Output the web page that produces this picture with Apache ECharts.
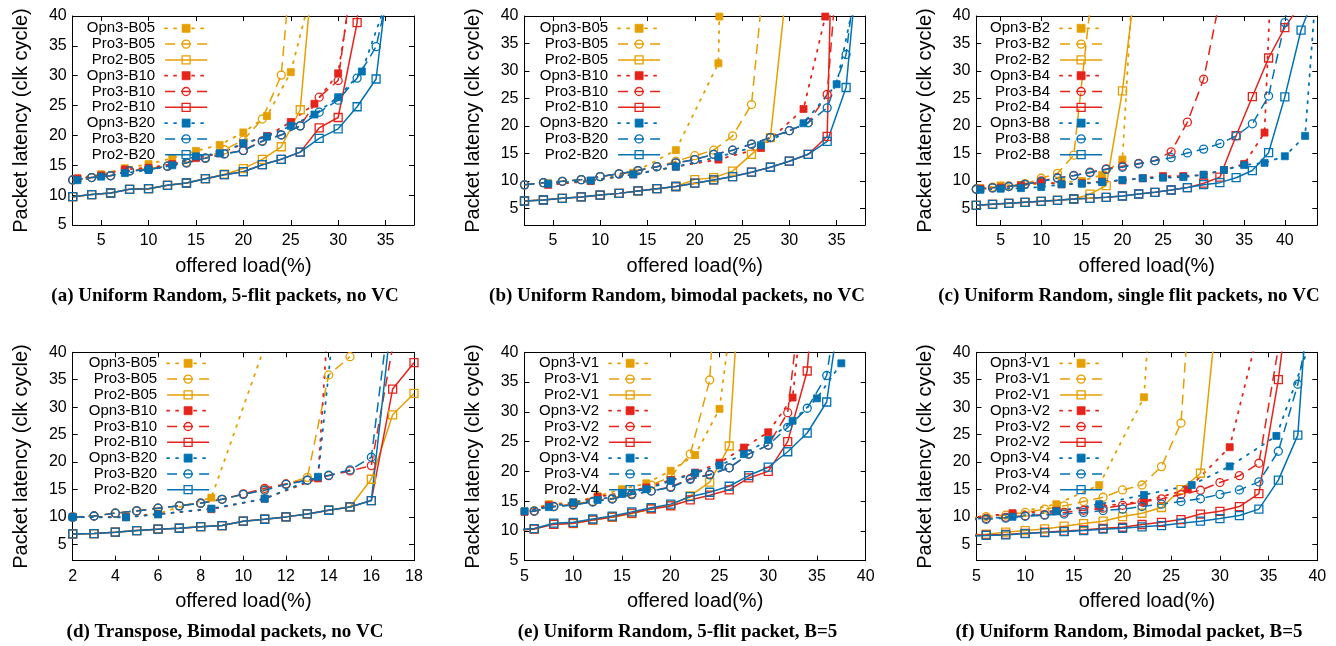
<!DOCTYPE html>
<html><head><meta charset="utf-8">
<script src="https://cdn.jsdelivr.net/npm/echarts@6/dist/echarts.min.js"></script>
<style>html,body{margin:0;padding:0;background:#fff}#c{width:1336px;height:646px}</style>
</head><body><div id="c"></div><script>
// ---------- tick labels ----------
const Y_TICKS = [5, 10, 15, 20, 25, 30, 35, 40];
const X_TICKS_AB = [5, 10, 15, 20, 25, 30, 35];
const X_TICKS_C = [5, 10, 15, 20, 25, 30, 35, 40];
const X_TICKS_D = [2, 4, 6, 8, 10, 12, 14, 16, 18];
const X_TICKS_EF = [5, 10, 15, 20, 25, 30, 35, 40];

// ---------- (a) Uniform Random, 5-flit packets, no VC ----------
const A_OPN3_B05 = [[2.5,12.8],[5,13.5],[7.5,14.5],[10,15.2],[12.5,16.2],[15,17.4],[17.5,18.4],[20,20.5],[22.5,23.25],[25,30.6],[27.5,46]];
const A_PRO3_B05 = [[2,12.55],[4,12.95],[6,13.3],[8,14.1],[10,14.5],[12,14.85],[14,15.5],[16,16.2],[18,17.6],[20,19.2],[22,22.75],[24,30.1],[26,66]];
const A_PRO2_B05 = [[2,9.74],[4,10.1],[6,10.36],[8,10.97],[10,11.08],[12,11.64],[14,12.03],[16,12.76],[18,13.5],[20,14.45],[22,16.0],[24,18.1],[26,24.3],[28,60]];
const A_OPN3_B10 = [[2.5,12.8],[5,13.3],[7.5,14.3],[10,14.6],[12.5,15.2],[15,16.2],[17.5,17.0],[20,18.6],[22.5,19.9],[25,22.25],[27.5,25.3],[30,30.4],[32.5,56]];
const A_PRO3_B10 = [[2,12.55],[4,12.95],[6,13.25],[8,14.05],[10,14.3],[12,14.85],[14,15.4],[16,16.2],[18,16.9],[20,17.5],[22,19.1],[24,20.1],[26,21.6],[28,26.4],[30,29.2],[32,53]];
const A_PRO2_B10 = [[2,9.74],[4,10.1],[6,10.36],[8,10.97],[10,11.08],[12,11.64],[14,12.03],[16,12.76],[18,13.43],[20,13.93],[22,15.1],[24,16.0],[26,17.2],[28,21.25],[30,23.0],[32,38.9],[34,110]];
const A_OPN3_B20 = [[2.5,12.5],[5,13.1],[7.5,13.7],[10,14.2],[12.5,15.0],[15,16.5],[17.5,17.0],[20,18.7],[22.5,19.8],[25,21.6],[27.5,23.5],[30,26.4],[32.5,30.7],[35,42]];
const A_PRO3_B20 = [[2,12.55],[4,12.95],[6,13.25],[8,14.05],[10,14.3],[12,14.85],[14,15.4],[16,16.2],[18,16.9],[20,17.45],[22,19.0],[24,20.07],[26,21.6],[28,23.9],[30,25.9],[32,29.6],[34,34.86],[36,49]];
const A_PRO2_B20 = [[2,9.74],[4,10.1],[6,10.36],[8,10.97],[10,11.08],[12,11.64],[14,12.03],[16,12.76],[18,13.43],[20,13.93],[22,15.1],[24,16.0],[26,17.2],[28,19.5],[30,21.1],[32,24.8],[34,29.45],[36,56]];

// ---------- (b) Uniform Random, bimodal packets, no VC ----------
const B_OPN3_B05 = [[4.5,9.6],[9,10.0],[13.5,11.5],[18,15.6],[22.5,31.4],[22.6,39.9]];
const B_PRO3_B05 = [[2,9.3],[4,9.7],[6,9.95],[8,10.25],[10,10.8],[12,11.3],[14,11.9],[16,12.6],[18,13.6],[20,14.6],[22,15.6],[24,18.2],[26,23.9],[28,59]];
const B_PRO2_B05 = [[2,6.36],[4,6.55],[6,6.85],[8,7.1],[10,7.45],[12,7.75],[14,8.2],[16,8.6],[18,9.0],[20,10.25],[22,10.6],[24,11.8],[26,14.85],[28,17.9],[30,50]];
const B_OPN3_B10 = [[4.5,9.3],[9,10.0],[13.5,11.2],[18,12.6],[22.5,13.9],[27,16.0],[31.5,23.1],[33.8,39.9]];
const B_PRO3_B10 = [[2,9.3],[4,9.7],[6,9.95],[8,10.25],[10,10.8],[12,11.3],[14,11.9],[16,12.6],[18,13.3],[20,13.9],[22,14.85],[24,15.6],[26,16.7],[28,17.9],[30,19.15],[32,20.6],[34,25.75],[36,69]];
const B_PRO2_B10 = [[2,6.36],[4,6.55],[6,6.85],[8,7.1],[10,7.45],[12,7.75],[14,8.2],[16,8.6],[18,9.0],[20,9.6],[22,10.2],[24,10.8],[26,11.6],[28,12.5],[30,13.6],[32,14.85],[34,18.1],[36,160]];
const B_OPN3_B20 = [[4.5,9.5],[9,10.1],[13.5,11.2],[18,12.6],[22.5,14.4],[27,16.5],[31.5,20.5],[35,27.6],[37,44]];
const B_PRO3_B20 = [[2,9.3],[4,9.7],[6,9.95],[8,10.25],[10,10.8],[12,11.3],[14,11.9],[16,12.6],[18,13.3],[20,13.9],[22,14.85],[24,15.6],[26,16.7],[28,17.9],[30,19.15],[32,20.6],[34,23.3],[36,33.0],[38,61]];
const B_PRO2_B20 = [[2,6.36],[4,6.55],[6,6.85],[8,7.1],[10,7.45],[12,7.75],[14,8.2],[16,8.6],[18,9.0],[20,9.6],[22,10.2],[24,10.8],[26,11.6],[28,12.5],[30,13.6],[32,14.85],[34,17.2],[36,27.0],[38,64]];

// ---------- (c) Uniform Random, single flit packets, no VC ----------
const C_OPN3_B2 = [[2.5,8.7],[5,9.2],[7.5,9.3],[10,9.5],[12.5,9.8],[15,10.0],[17.5,11.1],[20,13.9],[22.5,79]];
const C_PRO3_B2 = [[2,8.6],[4,8.9],[6,9.1],[8,9.5],[10,10.5],[12,11.4],[14,14.7],[16,41.3]];
const C_PRO2_B2 = [[2,5.58],[4,5.76],[6,5.94],[8,6.12],[10,6.3],[12,6.48],[14,6.73],[16,7.6],[18,9.15],[20,26.4],[22,51]];
const C_OPN3_B4 = [[2.5,8.6],[5,8.8],[7.5,9.2],[10,9.8],[12.5,9.4],[15,9.6],[17.5,9.9],[20,10.1],[22.5,10.5],[25,10.9],[27.5,10.9],[30,11.1],[32.5,12.0],[35,13.1],[37.5,18.8],[38.75,63]];
const C_PRO3_B4 = [[2,8.5],[4,8.75],[6,9.0],[8,9.4],[10,10.0],[12,10.6],[14,11.0],[16,11.6],[18,12.2],[20,12.7],[22,13.2],[24,13.7],[26,15.3],[28,20.7],[30,28.5],[32,43]];
const C_PRO2_B4 = [[2,5.58],[4,5.76],[6,5.94],[8,6.12],[10,6.3],[12,6.48],[14,6.73],[16,6.85],[18,7.03],[20,7.27],[22,7.64],[24,7.94],[26,8.36],[28,8.8],[30,9.6],[32,10.7],[34,18.24],[36,25.33],[38,32.36],[40,37.9],[42,42.3]];
const C_OPN3_B8 = [[2.5,8.4],[5,8.6],[7.5,8.7],[10,8.9],[12.5,9.4],[15,9.5],[17.5,9.8],[20,10.2],[22.5,10.5],[25,10.6],[27.5,10.7],[30,11.15],[32.5,12.0],[35,12.9],[37.5,13.3],[40,14.5],[42.5,18.2],[45,68]];
const C_PRO3_B8 = [[2,8.5],[4,8.75],[6,9.0],[8,9.4],[10,9.9],[12,10.5],[14,10.97],[16,11.5],[18,12.1],[20,12.5],[22,13.1],[24,13.7],[26,14.24],[28,15.1],[30,15.8],[32,16.8],[34,18.2],[36,20.4],[38,25.45],[40,38.8],[42,60]];
const C_PRO2_B8 = [[2,5.58],[4,5.76],[6,5.94],[8,6.12],[10,6.3],[12,6.48],[14,6.73],[16,6.85],[18,7.03],[20,7.27],[22,7.64],[24,7.94],[26,8.36],[28,8.8],[30,9.33],[32,9.7],[34,10.6],[36,11.9],[38,15.15],[40,25.3],[42,37.45],[44,45]];

// ---------- (d) Transpose, Bimodal packets, no VC ----------
const D_OPN3_B05 = [[2,10.0],[4.5,10.0],[6,10.6],[8.5,13.5],[11,41.1]];
const D_PRO3_B05 = [[2,9.95],[3,10.15],[4,10.7],[5,11.1],[6,11.6],[7,12.0],[8,12.5],[9,13.2],[10,14.1],[11,15.0],[12,16.0],[13,17.2],[14,35.87],[15,39.2]];
const D_PRO2_B05 = [[2,6.89],[3,6.95],[4,7.2],[5,7.5],[6,7.74],[7,7.92],[8,8.2],[9,8.4],[10,9.2],[11,9.56],[12,9.99],[13,10.53],[14,11.2],[15,11.8],[16,16.85],[17,28.6],[18,32.5]];
const D_OPN3_B10 = [[2,10.0],[4.5,9.95],[6,10.5],[8.5,11.4],[11,13.3],[13.5,17.0],[14,48]];
const D_PRO3_B10 = [[2,9.93],[3,10.15],[4,10.66],[5,11.08],[6,11.57],[7,12.0],[8,12.48],[9,13.2],[10,14.2],[11,15.2],[12,16.0],[13,16.7],[14,17.5],[15,18.37],[16,19.34],[17,41]];
const D_PRO2_B10 = [[2,6.89],[3,6.95],[4,7.2],[5,7.5],[6,7.74],[7,7.92],[8,8.2],[9,8.4],[10,9.2],[11,9.56],[12,9.99],[13,10.53],[14,11.2],[15,11.8],[16,12.96],[17,33.3],[18,38.1]];
const D_OPN3_B20 = [[2,9.95],[4.5,9.9],[6,10.45],[8.5,11.5],[11,13.3],[13.5,17.3],[14.25,45.7]];
const D_PRO3_B20 = [[2,9.93],[3,10.15],[4,10.66],[5,11.08],[6,11.57],[7,12.0],[8,12.48],[9,13.2],[10,14.1],[11,14.85],[12,15.9],[13,16.67],[14,17.58],[15,18.55],[16,20.86],[17,52]];
const D_PRO2_B20 = [[2,6.89],[3,6.95],[4,7.2],[5,7.5],[6,7.74],[7,7.92],[8,8.2],[9,8.4],[10,9.2],[11,9.56],[12,9.99],[13,10.53],[14,11.2],[15,11.8],[16,12.96],[17,48]];

// ---------- (e) Uniform Random, 5-flit packet, B=5 ----------
const E_OPN3_V1 = [[5,13.3],[7.5,14.5],[10,14.8],[12.5,15.86],[15,17.0],[17.5,18.0],[20,20.1],[22.5,22.75],[25,30.5],[27.5,62]];
const E_PRO3_V1 = [[4,12.9],[6,13.4],[8,14.1],[10,14.5],[12,15.0],[14,15.5],[16,16.3],[18,17.7],[20,19.1],[22,22.9],[24,35.35],[26,90]];
const E_PRO2_V1 = [[4,10.1],[6,10.35],[8,11.15],[10,11.25],[12,11.8],[14,12.3],[16,12.9],[18,13.7],[20,14.3],[22,15.9],[24,18.2],[26,24.26],[28,76]];
const E_OPN3_V2 = [[5,13.2],[7.5,14.3],[10,14.7],[12.5,15.7],[15,16.4],[17.5,17.3],[20,18.55],[22.5,19.8],[25,21.46],[27.5,24.0],[30,26.56],[32.5,32.4],[35,70]];
const E_PRO3_V2 = [[4,12.9],[6,13.3],[8,14.1],[10,14.4],[12,14.9],[14,15.4],[16,16.1],[18,16.7],[20,17.4],[22,18.8],[24,19.5],[26,20.6],[28,22.9],[30,24.4],[32,29.86],[34,58.8]];
const E_PRO2_V2 = [[4,10.1],[6,10.3],[8,11.1],[10,11.3],[12,11.85],[14,12.35],[16,13.0],[18,13.7],[20,14.2],[22,15.2],[24,16.0],[26,16.9],[28,18.9],[30,20.0],[32,25.0],[34,36.86],[36,80]];
const E_OPN3_V4 = [[5,13.3],[7.5,14.0],[10,14.8],[12.5,15.2],[15,16.2],[17.5,17.0],[20,18.4],[22.5,19.7],[25,21.0],[27.5,22.9],[30,25.27],[32.5,28.5],[35,32.27],[37.5,38.15]];
const E_PRO3_V4 = [[4,12.9],[6,13.34],[8,14.07],[10,14.35],[12,14.86],[14,15.36],[16,16.14],[18,16.7],[20,17.3],[22,18.66],[24,19.4],[26,20.6],[28,22.9],[30,24.4],[32,27.4],[34,30.6],[36,36.1],[38,58]];
const E_PRO2_V4 = [[4,10.2],[6,10.4],[8,11.3],[10,11.44],[12,12.0],[14,12.5],[16,13.2],[18,13.9],[20,14.5],[22,15.75],[24,16.5],[26,17.5],[28,19.3],[30,20.7],[32,23.3],[34,26.45],[36,31.65],[38,55]];

// ---------- (f) Uniform Random, Bimodal packet, B=5 ----------
const F_OPN3_V1 = [[4.3,9.9],[8.7,10.6],[13.2,12.3],[17.6,15.8],[22.2,31.8],[22.8,48]];
const F_PRO3_V1 = [[4,9.8],[6,10.05],[8,10.3],[10,10.8],[12,11.4],[14,12.0],[16,12.78],[18,13.57],[20,14.9],[22,15.8],[24,19.16],[26,27.1],[28,78.7]];
const F_PRO2_V1 = [[4,6.7],[6,6.83],[8,7.2],[10,7.5],[12,7.8],[14,8.3],[16,8.77],[18,9.2],[20,10.05],[22,10.65],[24,11.7],[26,14.97],[28,17.95],[30,53]];
const F_OPN3_V2 = [[4.3,9.8],[8.7,10.65],[13.2,11.1],[17.6,11.9],[22.2,12.8],[26.7,15.0],[31,22.7],[35.8,57.3]];
const F_PRO3_V2 = [[4,9.6],[6,9.7],[8,9.9],[10,10.2],[12,10.4],[14,10.8],[16,11.2],[18,11.57],[20,12.1],[22,12.7],[24,13.27],[26,14.06],[28,14.85],[30,16.25],[32,17.5],[34,19.77],[36,40.8]];
const F_PRO2_V2 = [[4,6.6],[6,6.7],[8,6.8],[10,7.0],[12,7.2],[14,7.4],[16,7.6],[18,7.9],[20,8.1],[22,8.6],[24,9.0],[26,9.5],[28,10.5],[30,11.0],[32,11.87],[34,14.24],[36,35.0],[38,63.6]];
const F_OPN3_V4 = [[4.3,9.6],[8.7,10.0],[13.2,11.0],[17.6,12.3],[22.2,14.0],[27.1,15.8],[31,19.2],[35.8,24.75],[40.5,47.8]];
const F_PRO3_V4 = [[4,9.5],[6,9.56],[8,9.75],[10,10.1],[12,10.3],[14,10.5],[16,10.8],[18,11.14],[20,11.4],[22,11.87],[24,12.3],[26,12.78],[28,13.3],[30,14.1],[32,14.9],[34,16.37],[36,21.96],[38,34.17],[40,53.6]];
const F_PRO2_V4 = [[4,6.45],[6,6.6],[8,6.7],[10,6.95],[12,7.13],[14,7.3],[16,7.5],[18,7.74],[20,7.92],[22,8.17],[24,8.4],[26,8.83],[28,9.2],[30,9.68],[32,10.23],[34,11.4],[36,16.7],[38,24.9],[40,75]];

// ---------- panels ----------
const PANELS = [
  {groups:['B05','B10','B20'], series:[A_OPN3_B05,A_PRO3_B05,A_PRO2_B05,A_OPN3_B10,A_PRO3_B10,A_PRO2_B10,A_OPN3_B20,A_PRO3_B20,A_PRO2_B20],
   x:[2,38], xt:X_TICKS_AB, y:[5,40], caption:'(a) Uniform Random, 5-flit packets, no VC',
   grid:{left:72.7,top:16,width:341.3,height:209}, legRight:208, legTop:20.4, capX:225, capY:296},
  {groups:['B05','B10','B20'], series:[B_OPN3_B05,B_PRO3_B05,B_PRO2_B05,B_OPN3_B10,B_PRO3_B10,B_PRO2_B10,B_OPN3_B20,B_PRO3_B20,B_PRO2_B20],
   x:[2,38], xt:X_TICKS_AB, y:[2,40], caption:'(b) Uniform Random, bimodal packets, no VC',
   grid:{left:524.5,top:16,width:340.5,height:209}, legRight:661, legTop:20.4, capX:677, capY:296},
  {groups:['B2','B4','B8'], series:[C_OPN3_B2,C_PRO3_B2,C_PRO2_B2,C_OPN3_B4,C_PRO3_B4,C_PRO2_B4,C_OPN3_B8,C_PRO3_B8,C_PRO2_B8],
   x:[2,44], xt:X_TICKS_C, y:[2,40], caption:'(c) Uniform Random, single flit packets, no VC',
   grid:{left:976.3,top:16,width:341,height:209}, legRight:1103, legTop:20.4, capX:1129, capY:296},
  {groups:['B05','B10','B20'], series:[D_OPN3_B05,D_PRO3_B05,D_PRO2_B05,D_OPN3_B10,D_PRO3_B10,D_PRO2_B10,D_OPN3_B20,D_PRO3_B20,D_PRO2_B20],
   x:[2,18], xt:X_TICKS_D, y:[2,40], caption:'(d) Transpose, Bimodal packets, no VC',
   grid:{left:72.7,top:352.3,width:341.3,height:208.4}, legRight:210, legTop:355.4, capX:225, capY:631.7},
  {groups:['V1','V2','V4'], series:[E_OPN3_V1,E_PRO3_V1,E_PRO2_V1,E_OPN3_V2,E_PRO3_V2,E_PRO2_V2,E_OPN3_V4,E_PRO3_V4,E_PRO2_V4],
   x:[5,40], xt:X_TICKS_EF, y:[5,40], caption:'(e) Uniform Random, 5-flit packet, B=5',
   grid:{left:524.5,top:352.3,width:341.2,height:208.4}, legRight:652, legTop:355.4, capX:677.5, capY:631.7},
  {groups:['V1','V2','V4'], series:[F_OPN3_V1,F_PRO3_V1,F_PRO2_V1,F_OPN3_V2,F_PRO3_V2,F_PRO2_V2,F_OPN3_V4,F_PRO3_V4,F_PRO2_V4],
   x:[5,40], xt:X_TICKS_EF, y:[2,40], caption:'(f) Uniform Random, Bimodal packet, B=5',
   grid:{left:976.5,top:352.3,width:340.8,height:208.4}, legRight:1103, legTop:355.4, capX:1129, capY:631.7}
];

const COLORS = ['#E69F00', '#E5231B', '#0072B2'];
const KINDS = ['Opn3', 'Pro3', 'Pro2'];
const W = 1336;

function kindStyle(kind, c) {
  if (kind === 'Opn3') return {symbol:'rect', size:7, item:{color:c, borderColor:c, borderWidth:0.8}, line:{color:c, width:1.8, type:[2,7], cap:'round'}};
  if (kind === 'Pro3') return {symbol:'circle', size:8, item:{color:'rgba(255,255,255,0)', borderColor:c, borderWidth:1.3}, line:{color:c, width:1.5, type:[10,6]}};
  return {symbol:'rect', size:8, item:{color:'rgba(255,255,255,0)', borderColor:c, borderWidth:1.3}, line:{color:c, width:1.5, type:'solid'}};
}

const grids = [], xAxes = [], yAxes = [], series = [], legends = [], graphics = [];
const axisBase = {
  axisLine:{show:true, onZero:false, lineStyle:{color:'#000', width:1}},
  splitLine:{show:false}
};
PANELS.forEach((p, i) => {
  grids.push(Object.assign({outerBoundsMode:'none', containLabel:false}, p.grid));
  xAxes.push(Object.assign({}, axisBase, {type:'value', gridIndex:i, position:'bottom', min:p.x[0], max:p.x[1],
    axisTick:{show:true, inside:true, length:5, customValues:p.xt, lineStyle:{color:'#000'}},
    axisLabel:{show:true, customValues:p.xt, color:'#000', fontSize:16, margin:8, fontFamily:'Liberation Sans'},
    name:'offered load(%)', nameLocation:'middle', nameGap:31,
    nameTextStyle:{fontSize:20, color:'#000', fontFamily:'Liberation Sans'}}));
  xAxes.push(Object.assign({}, axisBase, {type:'value', gridIndex:i, position:'top', min:p.x[0], max:p.x[1],
    axisTick:{show:true, inside:true, length:5, customValues:p.xt, lineStyle:{color:'#000'}},
    axisLabel:{show:false, customValues:p.xt}}));
  yAxes.push(Object.assign({}, axisBase, {type:'value', gridIndex:i, position:'left', min:p.y[0], max:p.y[1],
    axisTick:{show:true, inside:true, length:5, customValues:Y_TICKS, lineStyle:{color:'#000'}},
    axisLabel:{show:true, customValues:Y_TICKS, color:'#000', fontSize:16, margin:6, fontFamily:'Liberation Sans'},
    name:'Packet latency (clk cycle)', nameLocation:'middle', nameGap:41,
    nameTextStyle:{fontSize:20, color:'#000', fontFamily:'Liberation Sans'}}));
  yAxes.push(Object.assign({}, axisBase, {type:'value', gridIndex:i, position:'right', min:p.y[0], max:p.y[1],
    axisTick:{show:true, inside:true, length:5, customValues:Y_TICKS, lineStyle:{color:'#000'}},
    axisLabel:{show:false, customValues:Y_TICKS}}));
  const legData = [];
  p.groups.forEach((g, gi) => {
    KINDS.forEach((k, ki) => {
      const name = k + '-' + g;
      const st = kindStyle(k, COLORS[gi]);
      series.push({type:'line', name, xAxisIndex:2*i, yAxisIndex:2*i, data:p.series[gi*3+ki],
        symbol:st.symbol, symbolSize:st.size, showAllSymbol:true, clip:true,
        itemStyle:st.item, lineStyle:st.line, emphasis:{disabled:true}, silent:true, animation:false});
      legData.push({name, itemStyle:st.item, lineStyle:st.line});
    });
  });
  legends.push({orient:'vertical', align:'right', right:W - p.legRight, top:p.legTop, padding:0, itemGap:0,
    itemWidth:42, itemHeight:10, selectedMode:false,
    textStyle:{fontSize:15, color:'#000', lineHeight:15.8, padding:[0,5,0,0], fontFamily:'Liberation Sans'},
    data:legData});
  graphics.push({type:'text', x:p.capX, y:p.capY, silent:true,
    style:{text:p.caption, fill:'#000', font:'bold 19px "Liberation Serif"', textAlign:'center', textVerticalAlign:'middle'}});
});

const chart = echarts.init(document.getElementById('c'), null, {renderer:'canvas'});
chart.setOption({
  backgroundColor:'#fff', animation:false,
  textStyle:{fontFamily:'Liberation Sans'},
  grid:grids, xAxis:xAxes, yAxis:yAxes, series, legend:legends, graphic:graphics
});
</script></body></html>
